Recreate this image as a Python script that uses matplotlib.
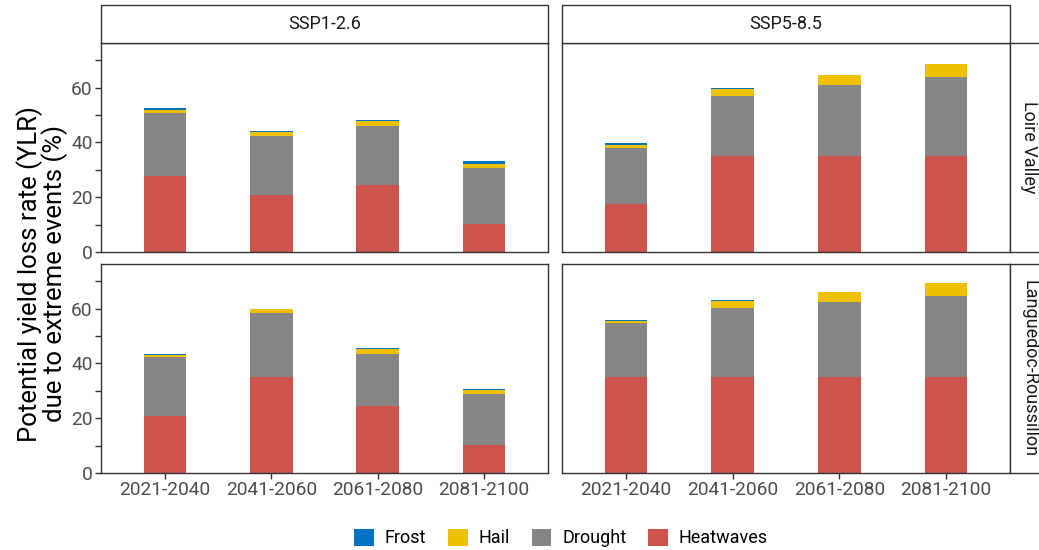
import numpy as np
import matplotlib
matplotlib.use("Agg")
import matplotlib.pyplot as plt
from matplotlib.patches import Patch, Rectangle

plt.rcParams["font.family"] = ["Roboto", "DejaVu Sans"]

# Data
periods = ["2021-2040", "2041-2060", "2061-2080", "2081-2100"]
scenarios = ["SSP1-2.6", "SSP5-8.5"]
regions = ["Loire Valley", "Languedoc-Roussillon"]
events = ["Frost", "Hail", "Drought", "Heatwaves"]
colors = {"Frost": "#0073C2", "Hail": "#EFC000", "Drought": "#868686", "Heatwaves": "#CD534C"}

# Loire Valley
heat_loire_ssp1 = [27.8, 20.7, 24.4, 10.2]
drought_loire_ssp1 = [23.0, 21.5, 21.7, 20.5]
hail_loire_ssp1 = [0.9, 1.6, 1.6, 1.3]
frost_loire_ssp1 = [0.8, 0.3, 0.6, 1.3]

heat_loire_ssp5 = [17.4, 35.0, 35.0, 35.0]
drought_loire_ssp5 = [20.6, 21.9, 26.1, 28.9]
hail_loire_ssp5 = [0.9, 2.5, 3.4, 4.8]
frost_loire_ssp5 = [0.8, 0.3, 0.2, 0.1]

# Languedoc-Roussillon
heat_lang_ssp1 = [20.9, 35.0, 24.5, 10.3]
drought_lang_ssp1 = [21.4, 23.4, 19.1, 18.6]
hail_lang_ssp1 = [0.7, 1.4, 1.5, 1.4]
frost_lang_ssp1 = [0.4, 0.1, 0.6, 0.4]

heat_lang_ssp5 = [35.0, 35.0, 35.0, 35.0]
drought_lang_ssp5 = [19.6, 25.4, 27.6, 29.5]
hail_lang_ssp5 = [0.8, 2.5, 3.5, 5.0]
frost_lang_ssp5 = [0.6, 0.3, 0.1, 0.0]

panels = {
    ("Loire Valley", "SSP1-2.6"): (heat_loire_ssp1, drought_loire_ssp1, hail_loire_ssp1, frost_loire_ssp1),
    ("Loire Valley", "SSP5-8.5"): (heat_loire_ssp5, drought_loire_ssp5, hail_loire_ssp5, frost_loire_ssp5),
    ("Languedoc-Roussillon", "SSP1-2.6"): (heat_lang_ssp1, drought_lang_ssp1, hail_lang_ssp1, frost_lang_ssp1),
    ("Languedoc-Roussillon", "SSP5-8.5"): (heat_lang_ssp5, drought_lang_ssp5, hail_lang_ssp5, frost_lang_ssp5),
}

W, H = 1039, 550
fig = plt.figure(figsize=(W / 100, H / 100), dpi=100)

def px_axes(x0, y0, x1, y1):
    return fig.add_axes([x0 / W, 1 - y1 / H, (x1 - x0) / W, (y1 - y0) / H])

col_x = [(101, 548), (562, 1010)]
row_y = [(43, 252), (264, 473)]
border = "#333333"
tick_col = "#4D4D4D"

x = np.arange(1, len(periods) + 1)
for r, region in enumerate(regions):
    for c, scen in enumerate(scenarios):
        ax = px_axes(col_x[c][0], row_y[r][0], col_x[c][1], row_y[r][1])
        heat, drought, hail, frost = panels[(region, scen)]
        bottom = np.zeros(len(periods))
        for name, vals in [("Heatwaves", heat), ("Drought", drought), ("Hail", hail), ("Frost", frost)]:
            ax.bar(x, vals, width=0.4, bottom=bottom, color=colors[name], linewidth=0)
            bottom = bottom + np.array(vals)
        ax.set_xlim(0.4, 4.6)
        ax.set_ylim(0, 76.3)
        ax.set_yticks([0, 20, 40, 60])
        ax.set_yticks([10, 30, 50, 70], minor=True)
        for s in ax.spines.values():
            s.set_color(border)
            s.set_linewidth(1.0)
        ax.tick_params(which="both", direction="out", length=4, width=1, color=border,
                       labelsize=13.8, labelcolor=tick_col, pad=2)
        ax.set_xticks(x)
        if r == 1:
            ax.set_xticklabels(periods)
        else:
            ax.tick_params(axis="x", length=0, labelbottom=False)
        if c == 1:
            ax.tick_params(axis="y", which="both", length=0, labelleft=False)

# facet strips
for c, scen in enumerate(scenarios):
    x0, x1 = col_x[c]
    fig.patches.append(Rectangle((x0 / W, 1 - 43 / H), (x1 - x0) / W, 38 / H,
                                 transform=fig.transFigure, facecolor="white",
                                 edgecolor=border, linewidth=1.0))
    fig.text((x0 + x1) / 2 / W, 1 - 24 / H, scen, ha="center", va="center",
             fontsize=13, color="#1A1A1A")
for r, region in enumerate(regions):
    y0, y1 = row_y[r]
    fig.patches.append(Rectangle((1010 / W, 1 - y1 / H), 40 / W, (y1 - y0) / H,
                                 transform=fig.transFigure, facecolor="white",
                                 edgecolor=border, linewidth=1.0, clip_on=False))
    fig.text(1029 / W, 1 - (y0 + y1) / 2 / H, region, ha="center", va="center",
             rotation=-90, fontsize=13, color="#1A1A1A")

fig.text(42 / W, 1 - 274 / H, "Potential yield loss rate (YLR)\ndue to extreme events (%)",
         ha="center", va="center", rotation=90, fontsize=18.5, linespacing=0.95)

handles = [Patch(facecolor=colors[e], edgecolor="none", label=e) for e in events]
fig.legend(handles=handles, loc="center", bbox_to_anchor=(561 / W, 1 - 538 / H), ncol=4,
           frameon=False, fontsize=13, handlelength=1.1, handleheight=1.1,
           columnspacing=1.2, handletextpad=0.6)

fig.savefig("out.png", dpi=100)
